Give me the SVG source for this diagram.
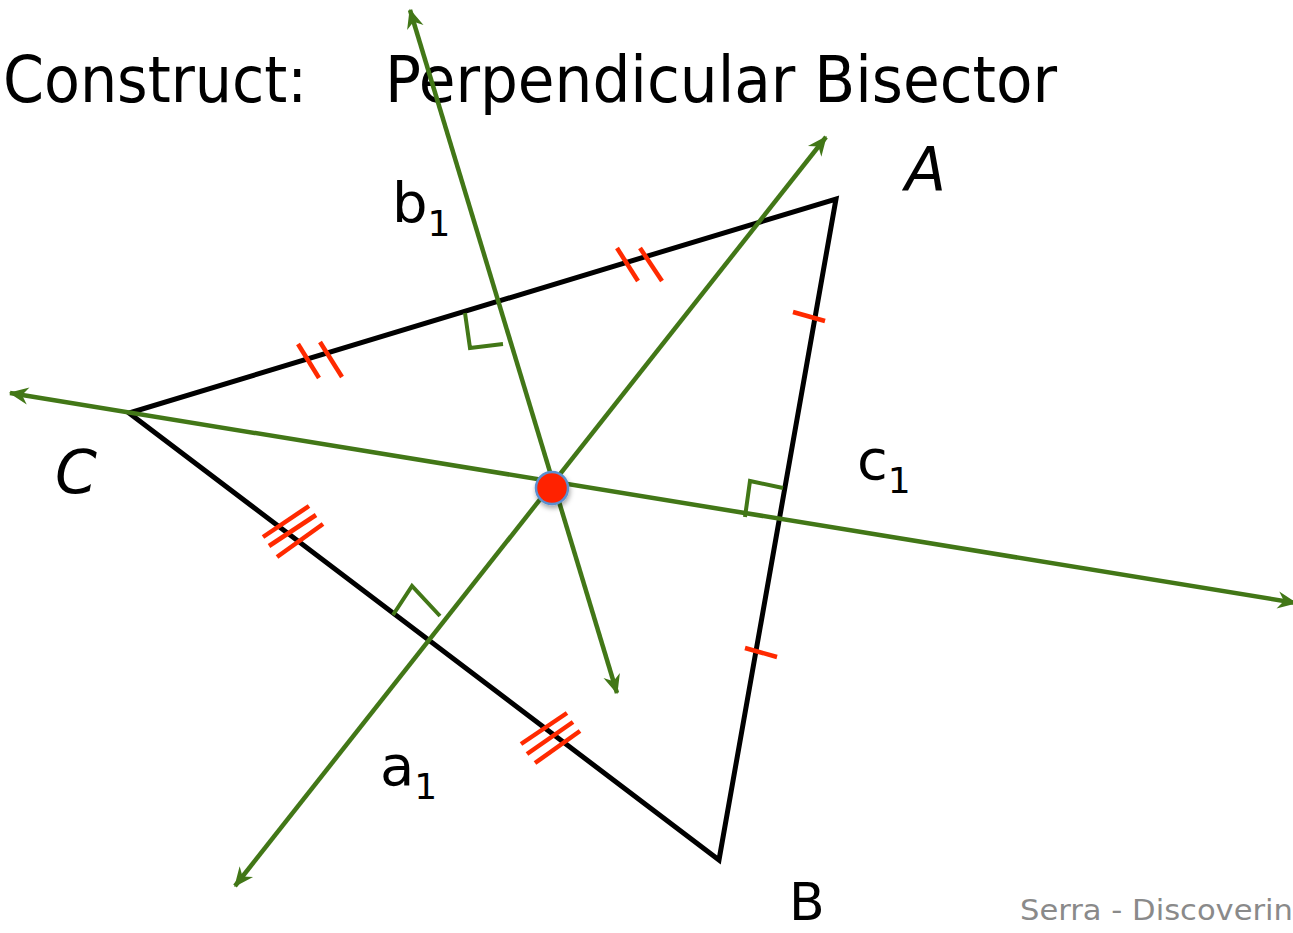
<svg xmlns="http://www.w3.org/2000/svg" width="1293" height="933" viewBox="0 0 1293 933">
<style>
.tri{fill:none;stroke:#000;stroke-width:5;stroke-linejoin:miter}
.bis{fill:none;stroke:#427717;stroke-width:4.5;marker-start:url(#arr);marker-end:url(#arr)}
.ra{fill:none;stroke:#427717;stroke-width:4}
.tick{stroke:#ff2a00;stroke-width:4.5}
.lbl{font-family:"DejaVu Sans","Noto Sans",sans-serif;fill:#000}
.title{font-family:"DejaVu Sans Condensed","DejaVu Sans",sans-serif;font-size:64px;fill:#000}
</style>
<defs>
<marker id="arr" viewBox="-16 -8 18 16" refX="0" refY="0" markerWidth="22" markerHeight="20" markerUnits="userSpaceOnUse" orient="auto-start-reverse">
<path d="M1,0 L-15,-7 L-10,0 L-15,7 Z" fill="#427717"/>
</marker>
<filter id="sh" x="-50%" y="-50%" width="200%" height="200%">
<feDropShadow dx="1" dy="3" stdDeviation="2.5" flood-color="#000" flood-opacity="0.35"/>
</filter>
</defs>
<g id="title">
<text class="title" x="3" y="102" textLength="304" lengthAdjust="spacingAndGlyphs">Construct:</text>
<text class="title" x="385" y="102" textLength="672" lengthAdjust="spacingAndGlyphs">Perpendicular Bisector</text>
</g>
<g id="triangle">
<polygon class="tri" points="836,199 719,860 129,413"/>
</g>
<g id="connectors">
<line id="b1-line" class="bis" x1="410" y1="10" x2="617" y2="693"/>
<line id="a1-line" class="bis" x1="826" y1="137" x2="235" y2="886"/>
<line id="c1-line" class="bis" x1="10" y1="393" x2="1296" y2="603"/>
</g>
<g id="right-angles">
<polyline class="ra" points="465,313 470,348 503,344"/>
<polyline class="ra" points="745,517 750,481 783,488"/>
<polyline class="ra" points="393,615 412,586 440,616"/>
</g>
<g id="ticks">
<line class="tick" x1="617" y1="248" x2="638" y2="281"/>
<line class="tick" x1="640" y1="248" x2="662" y2="281"/>
<line class="tick" x1="298" y1="344" x2="319" y2="378"/>
<line class="tick" x1="320" y1="342" x2="342" y2="377"/>
<line class="tick" x1="793" y1="312" x2="825" y2="321"/>
<line class="tick" x1="745" y1="648" x2="777" y2="657"/>
<line class="tick" x1="263" y1="537" x2="309" y2="506"/>
<line class="tick" x1="269" y1="546" x2="316" y2="515"/>
<line class="tick" x1="277" y1="557" x2="323" y2="524"/>
<line class="tick" x1="521" y1="744" x2="567" y2="713"/>
<line class="tick" x1="527" y1="754" x2="573" y2="722"/>
<line class="tick" x1="535" y1="763" x2="580" y2="731"/>
</g>
<g id="circumcenter">
<circle cx="552" cy="488" r="16" fill="#ff2200" stroke="#5b8fcf" stroke-width="2.5" filter="url(#sh)"/>
</g>
<g id="label-A"><text class="lbl" x="905" y="190" font-size="60" font-style="italic">A</text></g>
<g id="label-B"><text class="lbl" x="789" y="920" font-size="52">B</text></g>
<g id="label-C"><text class="lbl" x="55" y="493" font-size="60" font-style="italic">C</text></g>
<g id="label-b1"><text class="lbl" x="392" y="222" font-size="56">b<tspan font-size="36" dy="14">1</tspan></text></g>
<g id="label-c1"><text class="lbl" x="857" y="479" font-size="56">c<tspan font-size="36" dy="14">1</tspan></text></g>
<g id="label-a1"><text class="lbl" x="380" y="785" font-size="56">a<tspan font-size="36" dy="14">1</tspan></text></g>
<g id="footer"><text x="1020" y="920" font-family="DejaVu Sans, sans-serif" font-size="29" fill="#8a8a8a" textLength="273" lengthAdjust="spacingAndGlyphs">Serra - Discoverin</text></g>
</svg>
